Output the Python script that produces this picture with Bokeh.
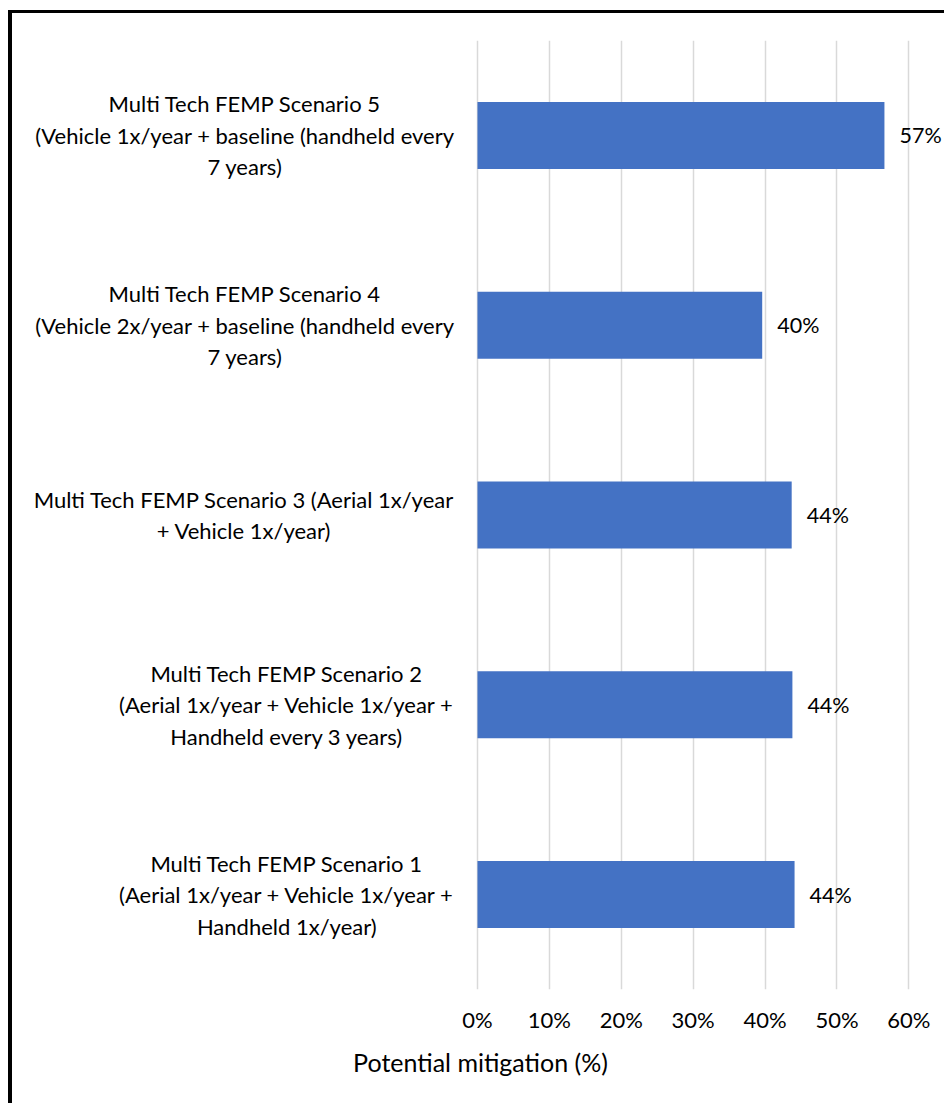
from bokeh.plotting import figure
from bokeh.models import FactorRange, FixedTicker, NumeralTickFormatter, ColumnDataSource, Range1d
from bokeh.core.properties import value
from bokeh.embed import file_html
from bokeh.resources import INLINE

# ---- data (bottom to top) ----
scenarios = [
    "Multi Tech FEMP Scenario 1\n(Aerial 1x/year + Vehicle 1x/year +\nHandheld 1x/year)",
    "Multi Tech FEMP Scenario 2\n(Aerial 1x/year + Vehicle 1x/year +\nHandheld every 3 years)",
    "Multi Tech FEMP Scenario 3 (Aerial 1x/year\n+ Vehicle 1x/year)",
    "Multi Tech FEMP Scenario 4\n(Vehicle 2x/year + baseline (handheld every\n7 years)",
    "Multi Tech FEMP Scenario 5\n(Vehicle 1x/year + baseline (handheld every\n7 years)",
]
mitigation = [0.441, 0.438, 0.437, 0.396, 0.566]
tick_values = [0.0, 0.1, 0.2, 0.3, 0.4, 0.5, 0.6]
x_title = "Potential mitigation (%)"

FONT = "Lato"
TXT = "#000000"

src = ColumnDataSource(dict(
    cat=scenarios,
    val=mitigation,
    lbl=[f"{v:.0%}" for v in mitigation],
    lx=[-0.032] * len(scenarios),
))

p = figure(
    width=936, height=1093,
    y_range=FactorRange(factors=scenarios, range_padding=0),
    x_range=Range1d(-0.6467, 0.6551),
    output_backend="svg", toolbar_location=None,
    y_axis_location=None,
    min_border_left=0, min_border_right=0,
    min_border_top=27, min_border_bottom=117,
)
p.styles = {"border-left": "4px solid black", "border-top": "3px solid black",
            "margin-top": "10px", "margin-left": "8px"}
p.outline_line_color = None
p.background_fill_color = "white"
p.border_fill_color = "white"

p.hbar(y="cat", right="val", left=0, height=0.353, source=src,
       fill_color="#4472C4", line_color=None)

p.text(x="val", y="cat", text="lbl", source=src, x_offset=15,
       text_font=value(FONT), text_font_size="21.5px", text_color=TXT,
       text_align="left", text_baseline="middle")

p.text(x="lx", y="cat", text="cat", source=src,
       text_font=value(FONT), text_font_size="22px", text_color=TXT,
       text_align="center", text_baseline="middle", anchor="center_right",
       text_line_height=1.17)

p.ygrid.grid_line_color = None
p.xgrid.grid_line_color = "#D9D9D9"
p.xgrid.grid_line_width = 1.5
p.xgrid.ticker = FixedTicker(ticks=tick_values)

ax = p.xaxis[0]
ax.ticker = FixedTicker(ticks=tick_values)
ax.formatter = NumeralTickFormatter(format="0%")
ax.axis_line_color = None
ax.major_tick_line_color = None
ax.minor_tick_line_color = None
ax.major_label_text_font = FONT
ax.major_label_text_font_size = "22px"
ax.major_label_text_color = TXT
ax.major_label_standoff = 10
ax.axis_label = x_title
ax.axis_label_text_font = FONT
ax.axis_label_text_font_size = "25px"
ax.axis_label_text_font_style = "normal"
ax.axis_label_text_color = TXT
ax.axis_label_standoff = 11

open("out.html", "w").write(file_html(p, INLINE))
